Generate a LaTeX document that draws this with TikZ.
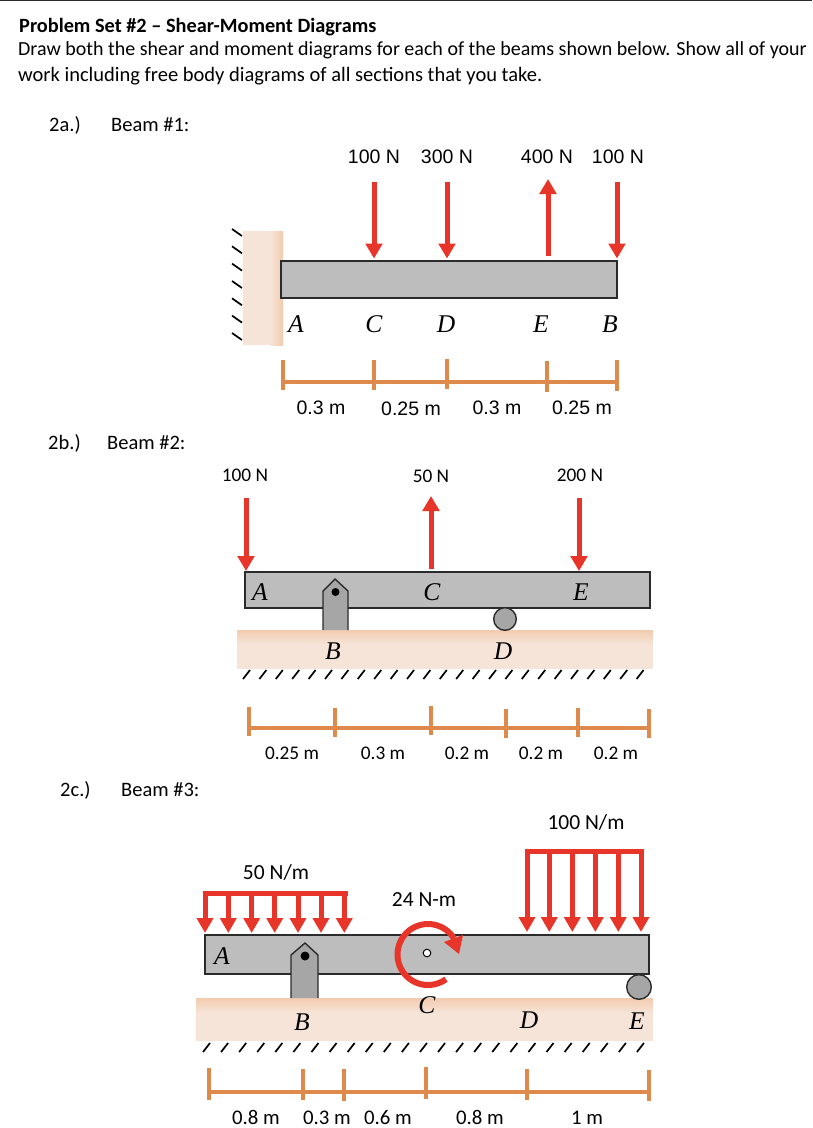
\documentclass[tikz,border=0pt]{standalone}
\usepackage{fontspec}
\setmainfont{Carlito}
\newfontfamily\arialf{Liberation Sans}
\newfontfamily\letf{Liberation Serif}
\usetikzlibrary{arrows.meta}
\definecolor{fred}{HTML}{E8352A}
\definecolor{dimc}{HTML}{DD8A4C}
\definecolor{beamg}{HTML}{BDBDBD}
\definecolor{supg}{HTML}{A6A6A6}
\definecolor{outl}{HTML}{2B2B2B}
\definecolor{gndl}{HTML}{F6E4D8}
\definecolor{gndd}{HTML}{F2CBAE}
\tikzset{
  x=1pt,y=-1pt,
  force/.style={draw=fred,line width=5pt,-{Triangle[width=16.5pt,length=15pt]}},
  udl/.style={draw=fred,line width=5pt,-{Triangle[width=16pt,length=15pt]}},
  udlbar/.style={draw=fred,line width=5pt,line cap=rect},
  beamrect/.style={fill=beamg,draw=outl,line width=1.6pt},
  pinshape/.style={fill=supg,draw=outl,line width=1.4pt},
  rollershape/.style={fill=supg,draw=outl,line width=1.4pt},
  hatch/.style={draw=black,line width=1.7pt},
  dimline/.style={draw=dimc,line width=3.6pt},
  txt/.style={inner sep=0pt,font=\fontsize{20.5}{24}\selectfont},
  bold/.style={inner sep=0pt,font=\fontsize{20.3}{24}\selectfont\bfseries},
  lab/.style={inner sep=0pt,font=\fontsize{19.3}{22}\selectfont},
  loadlab/.style={inner sep=0pt,font=\fontsize{21.5}{24}\selectfont},
  dimlab/.style={inner sep=0pt,anchor=base,font=\fontsize{20.8}{24}\selectfont},
  arlab/.style={inner sep=0pt,font=\arialf\fontsize{19.5}{22}\selectfont},
  let/.style={inner sep=0pt,font=\letf\itshape\fontsize{25.5}{28}\selectfont},
}
\begin{document}
\begin{tikzpicture}
\useasboundingbox (0,0) rectangle (812,1128);
\fill[outl] (0,0) rectangle (812,1.2);
% header
\node[bold,anchor=west] (title) at (19,27) {Problem Set \#2 – Shear-Moment Diagrams};
\node[txt,font=\fontsize{20}{24}\selectfont,anchor=west] (line1) at (18,50) {Draw both the shear and moment diagrams for each of the beams shown below. Show all of your};
\node[txt,anchor=west] (line2) at (18,76) {work including free body diagrams of all sections that you take.};
\node[txt,anchor=west] (pa) at (49,125) {2a.)};
\node[txt,anchor=west] (ba) at (111,125) {Beam \#1:};
\node[txt,anchor=west] (pb) at (48,443) {2b.)};
\node[txt,anchor=west] (bb) at (107,443) {Beam \#2:};
\node[txt,anchor=west] (pc) at (60,790) {2c.)};
\node[txt,anchor=west] (bc) at (121,790) {Beam \#3:};

% ---------- Beam 1
\fill[gndl] (243,231) rectangle (283,345);
\shade[left color=gndl,right color=gndd] (270,231) rectangle (283,345);
\foreach \yy in {229,246.3,263.6,281,298.3,315.6,333}
  \draw[hatch] (232,\yy) -- (242,\yy+7);
\draw[beamrect] (281,261) rectangle (617,298);
\foreach \xx in {374,447,617} \draw[force] (\xx,182) -- (\xx,258.5);
\draw[force] (548,256) -- (548,179);
\node[arlab] (a100) at (374,157) {100 N};
\node[arlab] (a300) at (447,157) {300 N};
\node[arlab] (a400) at (547,157) {400 N};
\node[arlab] (a100b) at (618,157) {100 N};
\node[let] (aA) at (296,324) {A};
\node[let] (aC) at (374,324) {C};
\node[let] (aD) at (446,324) {D};
\node[let] (aE) at (541,324) {E};
\node[let] (aB) at (610,324) {B};
\draw[dimline] (283,382) -- (617,382);
\foreach \xx/\ya/\yb in {283/360/390,374/360/390,447/359/389,547/361/392,617/360/391}
  \draw[dimline] (\xx,\ya) -- (\xx,\yb);
\node[arlab] (ad1) at (321,408) {0.3 m};
\node[arlab] (ad2) at (411,409) {0.25 m};
\node[arlab] (ad3) at (497,408) {0.3 m};
\node[arlab] (ad4) at (582,408) {0.25 m};

% ---------- Beam 2
\fill[gndl] (237,630) rectangle (653,669);
\shade[top color=gndd,bottom color=gndl] (237,630) rectangle (653,644);
\foreach \i in {0,...,24}
  \draw[hatch] ({243+16.4*\i},679) -- ({250+16.4*\i},670);
\draw[beamrect] (245,572) rectangle (650,608);
\draw[pinshape] (323,630) -- (323,591) -- (335,579) -- (348,591) -- (348,630);
\fill[black] (335.5,592) circle[radius=4];
\draw[rollershape] (505,619) circle[radius=11.3];
\foreach \xx in {246,579} \draw[force] (\xx,498) -- (\xx,571);
\draw[force] (431,569) -- (431,496);
\node[lab] (b100) at (245,475) {100 N};
\node[lab] (b50) at (431,476) {50 N};
\node[lab] (b200) at (580,475) {200 N};
\node[let] (bA) at (260,592) {A};
\node[let] (bC) at (432,592) {C};
\node[let] (bE) at (581,592) {E};
\node[let] (bB) at (333,651) {B};
\node[let] (bD) at (503,651) {D};
\draw[dimline] (249,728) -- (649,728);
\foreach \xx/\ya/\yb in {249/707/736,335/708/737,431/706/735,506/709/738,578/708/737,649/709/738}
  \draw[dimline] (\xx,\ya) -- (\xx,\yb);
\node[lab] (bd1) at (292,753) {0.25 m};
\node[lab] (bd2) at (383,753) {0.3 m};
\node[lab] (bd3) at (467,753) {0.2 m};
\node[lab] (bd4) at (541,753) {0.2 m};
\node[lab] (bd5) at (616,753) {0.2 m};

% ---------- Beam 3
\fill[gndl] (196,998) rectangle (653,1041);
\shade[top color=gndd,bottom color=gndl] (196,998) rectangle (653,1013);
\foreach \i in {0,...,24}
  \draw[hatch] ({203+18.08*\i},1052) -- ({210+18.08*\i},1043);
\draw[beamrect] (205,935) rectangle (649,974);
\draw[pinshape] (291,998) -- (291,955) -- (305,943) -- (318,955) -- (318,998);
\fill[black] (305,956) circle[radius=4.5];
\draw[rollershape] (639,987) circle[radius=12.3];
\draw[udlbar] (205,893) -- (345,893);
\foreach \xx in {205,228.3,251.7,274.7,298,321,344.3} \draw[udl] (\xx,893) -- (\xx,933);
\draw[udlbar] (527,851) -- (641,851);
\foreach \xx in {527,549.3,572.3,595.3,618.3,641} \draw[udl] (\xx,851) -- (\xx,932);
\draw[fred,line width=6pt,domain=54:328,samples=60,smooth] plot ({428+30.5*cos(\x)},{954.5+30.5*sin(\x)});
\fill[fred] (459,954) -- (444,942) -- (463,935) -- cycle;
\draw[black,fill=white,line width=1pt] (427,953) circle[radius=3.8];
\node[loadlab] (c100) at (586,822) {100 N/m};
\node[loadlab] (c50) at (276,872) {50 N/m};
\node[loadlab] (c24) at (424,900) {24 N-m};
\node[let] (cA) at (222,956) {A};
\node[let] (cB) at (302,1022) {B};
\node[let] (cC) at (427,1005) {C};
\node[let] (cD) at (529,1020) {D};
\node[let] (cE) at (637,1021) {E};
\draw[dimline] (209,1092) -- (649,1092);
\foreach \xx/\ya/\yb in {209/1068/1100,303/1069/1100,344/1069/1101,426/1067/1099,527/1069/1100,649/1070/1101}
  \draw[dimline] (\xx,\ya) -- (\xx,\yb);
\node[dimlab] (cd1) at (256,1124) {0.8 m};
\node[dimlab] (cd2) at (327,1124) {0.3 m};
\node[dimlab] (cd3) at (388,1124) {0.6 m};
\node[dimlab] (cd4) at (480,1124) {0.8 m};
\node[dimlab] (cd5) at (587,1124) {1 m};
\end{tikzpicture}
\end{document}
